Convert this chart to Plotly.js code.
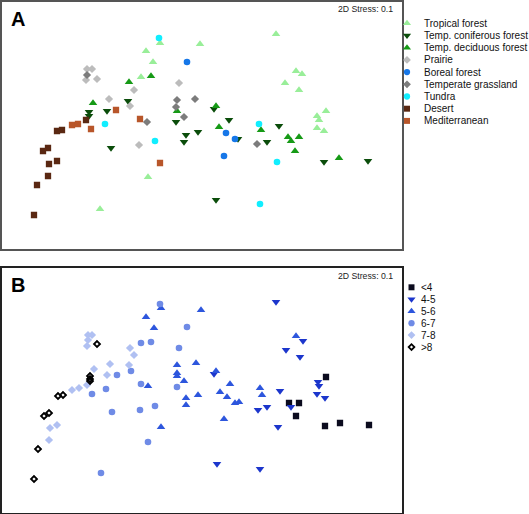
<!DOCTYPE html>
<html>
<head>
<meta charset="utf-8">
<script src="https://cdn.plot.ly/plotly-3.0.1.min.js"></script>
<style>html,body{margin:0;padding:0;background:#fff;}#chart{width:529px;height:514px;}</style>
</head>
<body>
<div id="chart"></div>
<script>
// ---- Panel A: NMDS scores by biome ----
const biomeNames = ["Tropical forest","Temp. coniferous forest","Temp. deciduous forest","Prairie","Boreal forest","Temperate grassland","Tundra","Desert","Mediterranean"];
const tropicalX = [-0.40,0.00,-0.54,-0.47,-0.59,-0.52,-1.00,0.76,0.96,1.02,0.85,0.99,1.26,1.17,1.19,1.17,1.24];
const tropicalY = [0.82,0.81,0.74,0.63,0.48,-0.52,-0.84,0.91,0.54,0.51,0.42,0.35,0.14,0.09,0.05,-0.03,-0.06];
const coniferX = [-1.11,-1.11,-0.93,-0.72,-0.89,-0.24,-0.14,-0.16,-0.02,0.14,0.29,0.38,0.16,0.67,0.79,1.24,1.68];
const coniferY = [0.13,0.09,0.14,0.24,-0.23,0.03,-0.10,-0.17,-0.07,0.16,0.05,-0.14,-0.75,-0.17,-0.01,-0.37,-0.36];
const deciduousX = [-1.07,-0.71,-0.49,-0.23,0.16,0.19,0.61,0.88,0.99,0.91,0.95,1.39];
const deciduousY = [0.22,0.43,0.49,0.14,0.19,-0.02,-0.05,-0.12,-0.12,-0.16,-0.26,-0.33];
const prairieX = [-1.13,-1.08,-1.14,-1.03,-0.66,-0.21,-0.91,-0.70,-0.61];
const prairieY = [0.56,0.56,0.45,0.46,0.35,0.42,0.26,0.19,-0.20];
const borealX = [-0.13,0.26,0.35,0.24];
const borealY = [0.63,-0.08,-0.14,-0.31];
const grasslandX = [-1.13,-0.23,-0.05,-0.24,-0.16,-0.53,0.57];
const grasslandY = [0.50,0.25,0.26,0.18,0.08,0.03,-0.19];
const tundraX = [-0.41,-0.95,-0.45,0.59,0.60,0.77];
const tundraY = [0.87,0.01,-0.16,0.01,-0.79,-0.37];
const desertX = [-1.14,-1.38,-1.43,-1.52,-1.57,-1.43,-1.51,-1.52,-1.63,-1.66];
const desertY = [0.05,-0.05,-0.06,-0.23,-0.26,-0.36,-0.39,-0.51,-0.60,-0.90];
const mediterraneanX = [-1.28,-1.22,-1.09,-0.84,-0.60,-0.40];
const mediterraneanY = [0.00,0.01,-0.04,0.15,0.06,-0.38];

// ---- Panel B: NMDS scores by pH class ----
const phNames = ["<4","4-5","5-6","6-7","7-8",">8"];
const phLt4X = [1.26,0.89,0.99,0.96,1.25,1.40,1.69];
const phLt4Y = [0.13,-0.13,-0.13,-0.26,-0.36,-0.33,-0.35];
const ph45X = [0.14,0.58,0.17,0.60,0.76,1.03,0.86,1.00,1.18,1.19,0.80,1.17,1.25,0.67,0.91,0.78];
const ph45Y = [0.16,-0.20,-0.74,-0.79,0.88,0.49,0.40,0.33,0.08,0.04,-0.01,-0.04,-0.08,-0.17,-0.17,-0.37];
const ph56X = [-0.39,0.01,-0.54,-0.46,-0.23,-0.04,-0.23,-0.23,-0.16,-0.52,0.16,0.30,0.20,0.27,-0.14,-0.02,-0.14,0.35,0.39,0.24,-0.39,0.60,0.62,0.96];
const ph56Y = [0.82,0.80,0.73,0.62,0.25,0.27,0.17,0.14,0.09,0.04,0.19,0.06,-0.02,-0.07,-0.08,-0.05,-0.15,-0.13,-0.12,-0.29,-0.37,0.02,-0.05,0.54];
const ph67X = [-0.40,-0.13,-0.59,-0.49,-0.21,-0.69,-0.83,-0.59,-0.94,-0.23,-1.08,-0.88,-0.60,-0.45,-0.52,-0.99];
const ph67Y = [0.86,0.63,0.47,0.48,0.42,0.19,0.15,0.06,0.01,0.03,-0.04,-0.22,-0.20,-0.16,-0.52,-0.83];
const ph78X = [-1.12,-1.08,-1.12,-1.13,-0.70,-0.66,-0.90,-0.71,-1.06,-0.93,-1.28,-1.21,-1.13,-1.50,-1.43,-1.51];
const ph78Y = [0.55,0.55,0.50,0.44,0.42,0.35,0.26,0.25,0.21,0.15,0.00,0.02,0.05,-0.38,-0.35,-0.50];
const phGt8X = [-1.03,-1.10,-1.10,-1.10,-1.42,-1.37,-1.56,-1.51,-1.62,-1.66];
const phGt8Y = [0.46,0.14,0.11,0.09,-0.06,-0.05,-0.26,-0.23,-0.59,-0.89];

const stressLabel = "2D Stress: 0.1";
const panelLabels = ["A","B"];

// ---- styles ----
const FONT = "Liberation Sans, Arial, Helvetica, sans-serif";
const biomeStyle = [
  {sym:"triangle-up", color:"#99ee99", size:7.5},
  {sym:"triangle-down", color:"#0b4d0b", size:7.5},
  {sym:"triangle-up", color:"#169a16", size:7.5},
  {sym:"diamond", color:"#bcbcbc", size:6.3},
  {sym:"circle", color:"#1677e8", size:6.6},
  {sym:"diamond", color:"#7c7c7c", size:6.3},
  {sym:"circle", color:"#11eeff", size:6.6},
  {sym:"square", color:"#5a2812", size:6.3},
  {sym:"square", color:"#b8562a", size:6.3}
];
const phStyle = [
  {sym:"square", color:"#0b0b1e", size:6.3},
  {sym:"triangle-down", color:"#1c36cc", size:7.5},
  {sym:"triangle-up", color:"#2d56dd", size:7.5},
  {sym:"circle", color:"#6f8be6", size:6.6},
  {sym:"diamond", color:"#b0c0f2", size:6.3},
  {sym:"diamond-open", color:"#000000", size:4.6, lw:1.8}
];

const biomeData = [[tropicalX,tropicalY],[coniferX,coniferY],[deciduousX,deciduousY],[prairieX,prairieY],[borealX,borealY],[grasslandX,grasslandY],[tundraX,tundraY],[desertX,desertY],[mediterraneanX,mediterraneanY]];
const phData = [[phLt4X,phLt4Y],[ph45X,ph45Y],[ph56X,ph56Y],[ph67X,ph67Y],[ph78X,ph78Y],[phGt8X,phGt8Y]];

function mk(st, scale){
  const s = scale || 1;
  const m = {symbol:st.sym, color:st.color, size:st.size*s, opacity:1, line:{width:0}};
  if (st.lw) m.line = {width:st.lw, color:st.color};
  return m;
}

const traces = [];
biomeData.forEach((d,i)=>{
  traces.push({type:"scatter", mode:"markers", x:d[0], y:d[1], name:biomeNames[i], xaxis:"x", yaxis:"y", marker:mk(biomeStyle[i]), showlegend:false, hoverinfo:"skip"});
});
phData.forEach((d,i)=>{
  traces.push({type:"scatter", mode:"markers", x:d[0], y:d[1], name:phNames[i], xaxis:"x2", yaxis:"y2", marker:mk(phStyle[i]), showlegend:false, hoverinfo:"skip"});
});

// custom compact legends drawn on a pixel-space overlay axis
const W = 529, H = 514;
const legA = {mx:407, tx:421.5, y0:23.3, dy:12.2};
const legB = {mx:411.5, tx:419, y0:287.3, dy:11.95};
const annotations = [];
function addLegend(names, styles, L){
  names.forEach((n,i)=>{
    const y = L.y0 + i*L.dy;
    traces.push({type:"scatter", mode:"markers", x:[L.mx], y:[y], xaxis:"x3", yaxis:"y3", showlegend:false, hoverinfo:"skip", marker:mk(styles[i], 0.95)});
    annotations.push({xref:"x3", yref:"y3", x:L.tx, y:y, text:n, showarrow:false, xanchor:"left", yanchor:"middle", font:{family:FONT, size:10, color:"#111"}});
  });
}
addLegend(biomeNames, biomeStyle, legA);
addLegend(phNames, phStyle, legB);

annotations.push({xref:"paper", yref:"paper", x:395/W, y:1-8.5/H, text:stressLabel, showarrow:false, xanchor:"right", yanchor:"middle", font:{family:FONT, size:8.7, color:"#222"}});
annotations.push({xref:"paper", yref:"paper", x:395/W, y:1-275.5/H, text:stressLabel, showarrow:false, xanchor:"right", yanchor:"middle", font:{family:FONT, size:8.7, color:"#222"}});
annotations.push({xref:"paper", yref:"paper", x:8.5/W, y:1-19.5/H, text:"<b>"+panelLabels[0]+"</b>", showarrow:false, xanchor:"left", yanchor:"middle", font:{family:FONT, size:20, color:"#000"}});
annotations.push({xref:"paper", yref:"paper", x:9/W, y:1-285/H, text:"<b>"+panelLabels[1]+"</b>", showarrow:false, xanchor:"left", yanchor:"middle", font:{family:FONT, size:20, color:"#000"}});

const axBase = {showgrid:false, zeroline:false, showticklabels:false, ticks:"", showline:true, mirror:true, linewidth:1.5, fixedrange:true};
const layout = {
  width:W, height:H, margin:{l:0,r:0,t:0,b:0}, paper_bgcolor:"#fff", plot_bgcolor:"rgba(0,0,0,0)", showlegend:false,
  xaxis: Object.assign({}, axBase, {domain:[1.5/W, 402/W], range:[-1.985, 2.02], anchor:"y", linecolor:"#555"}),
  yaxis: Object.assign({}, axBase, {domain:[1-249/H, 1-1.5/H], range:[-1.24, 1.235], anchor:"x", linecolor:"#555"}),
  xaxis2: Object.assign({}, axBase, {domain:[1.5/W, 402/W], range:[-1.985, 2.02], anchor:"y2", linecolor:"#222"}),
  yaxis2: Object.assign({}, axBase, {domain:[1-512.5/H, 1-267.5/H], range:[-1.225, 1.225], anchor:"x2", linecolor:"#222"}),
  xaxis3: {domain:[0,1], range:[0,W], anchor:"y3", visible:false, fixedrange:true},
  yaxis3: {domain:[0,1], range:[H,0], anchor:"x3", visible:false, fixedrange:true},
  annotations: annotations
};
Plotly.newPlot("chart", traces, layout, {staticPlot:true, displayModeBar:false});
</script>
</body>
</html>
